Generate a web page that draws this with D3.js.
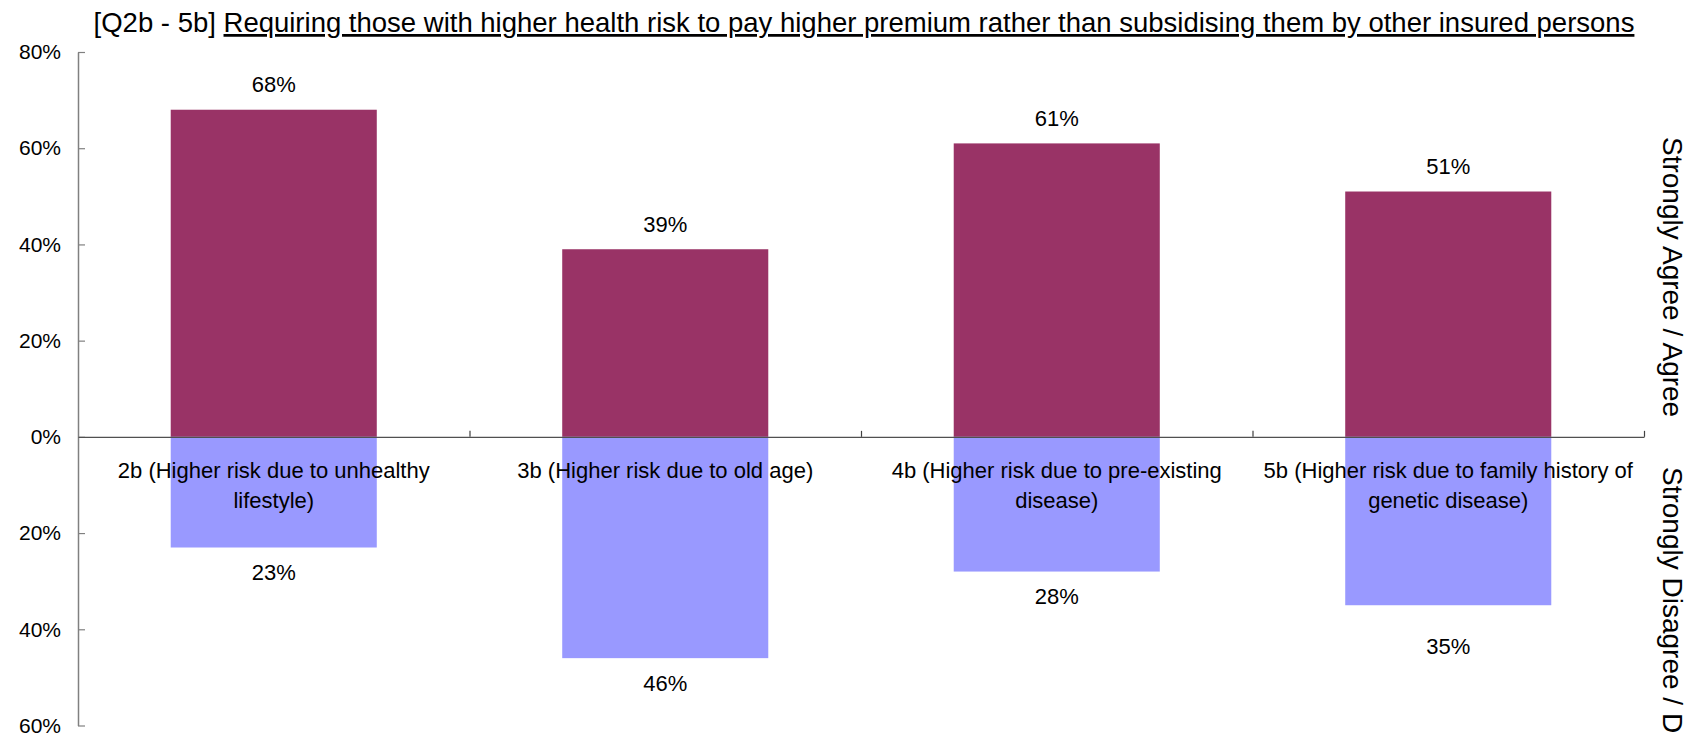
<!DOCTYPE html>
<html>
<head>
<meta charset="utf-8">
<script src="https://cdn.jsdelivr.net/npm/d3@7/dist/d3.min.js"></script>
<style>
  html, body { margin: 0; padding: 0; background: #fff; }
  svg { display: block; font-family: "Liberation Sans", Arial, sans-serif; }
</style>
</head>
<body>
<svg id="chart" width="1686" height="735"></svg>
<script>
// Survey items and their two-sided shares (%)
const categories = ["2b", "3b", "4b", "5b"];
const categoryLines = [
  ["2b (Higher risk due to unhealthy", "lifestyle)"],
  ["3b (Higher risk due to old age)"],
  ["4b (Higher risk due to pre-existing", "disease)"],
  ["5b (Higher risk due to family history of", "genetic disease)"]
];
const agreeValues = [68, 39, 61, 51];
const disagreeValues = [23, 46, 28, 35];
const yTickValues = [80, 60, 40, 20, 0, -20, -40, -60];

const titlePrefix = "[Q2b - 5b] ";
const titleMain = "Requiring those with higher health risk to pay higher premium rather than subsidising them by other insured persons";
const agreeLabel = "Strongly Agree / Agree";
const disagreeLabel = "Strongly Disagree / Disagree";

// Layout
const W = 1686, H = 735;
const plot = { left: 78, right: 1644, top: 52, bottom: 725.5 };
const colors = { agree: "#993366", disagree: "#9999FF" };
const labelGap = 25;
const labelNudge = { "5b": 16 }; // extra drop for the lower label of the last item

const svg = d3.select("#chart");

const x = d3.scaleBand().domain(categories).range([plot.left, plot.right]).paddingInner(0).paddingOuter(0);
const y = d3.scaleLinear().domain([-60, 80]).range([plot.bottom, plot.top]);
const barW = x.bandwidth() / 1.9;
const cx = c => x(c) + x.bandwidth() / 2;
const y0 = y(0);

// Bars
const bars = svg.append("g");
bars.selectAll("rect.agree").data(categories).join("rect")
  .attr("class", "agree")
  .attr("x", c => cx(c) - barW / 2)
  .attr("width", barW)
  .attr("y", (c, i) => y(agreeValues[i]))
  .attr("height", (c, i) => y0 - y(agreeValues[i]))
  .attr("fill", colors.agree);
bars.selectAll("rect.disagree").data(categories).join("rect")
  .attr("class", "disagree")
  .attr("x", c => cx(c) - barW / 2)
  .attr("width", barW)
  .attr("y", y0)
  .attr("height", (c, i) => y(-disagreeValues[i]) - y0)
  .attr("fill", colors.disagree);

// Y axis (ticks point into the plot)
const yAxis = svg.append("g")
  .attr("transform", `translate(${plot.left},0)`)
  .call(d3.axisLeft(y).tickValues(yTickValues).tickSizeInner(-7).tickSizeOuter(0).tickPadding(17)
    .tickFormat(d => Math.abs(d) + "%"));
yAxis.select(".domain").attr("stroke", "#808080").attr("stroke-width", 1.5);
yAxis.selectAll(".tick line").attr("stroke", "#808080").attr("stroke-width", 1.2);
yAxis.selectAll(".tick text").attr("font-size", 21).attr("fill", "#000")
  .attr("font-family", "'Liberation Sans', Arial, sans-serif");

// X axis at zero, with ticks between categories
const xb = d3.scaleLinear().domain([0, categories.length]).range([plot.left, plot.right]);
const xAxis = svg.append("g")
  .attr("transform", `translate(0,${y0})`)
  .call(d3.axisBottom(xb).tickValues(d3.range(1, categories.length + 1)).tickSizeInner(-6).tickSizeOuter(0).tickFormat(""));
xAxis.select(".domain").attr("stroke", "#505050").attr("stroke-width", 1.3);
xAxis.selectAll(".tick line").attr("stroke", "#404040").attr("stroke-width", 1.2);

// Category labels
const catG = svg.append("g").attr("font-size", 22).attr("fill", "#000").attr("text-anchor", "middle");
categories.forEach((c, i) => {
  const t = catG.append("text").attr("x", cx(c)).attr("y", y0 + 41);
  categoryLines[i].forEach((line, j) => {
    t.append("tspan").attr("x", cx(c)).attr("dy", j === 0 ? 0 : 30).text(line);
  });
});

// Value labels
const valG = svg.append("g").attr("font-size", 22).attr("fill", "#000").attr("text-anchor", "middle")
  .attr("dominant-baseline", "central");
valG.selectAll("text.agree").data(categories).join("text")
  .attr("x", cx)
  .attr("y", (c, i) => y(agreeValues[i]) - labelGap)
  .text((c, i) => agreeValues[i] + "%");
valG.selectAll("text.disagree").data(categories).join("text")
  .attr("x", cx)
  .attr("y", (c, i) => y(-disagreeValues[i]) + labelGap + (labelNudge[c] || 0))
  .text((c, i) => disagreeValues[i] + "%");

// Title with underlined statement
const title = svg.append("text")
  .attr("x", (plot.left + plot.right) / 2 + 3).attr("y", 32)
  .attr("text-anchor", "middle").attr("font-size", 27.5).attr("fill", "#000");
title.append("tspan").text(titlePrefix);
title.append("tspan").style("text-decoration", "underline").text(titleMain);

// Side captions for the two halves
svg.append("text")
  .attr("transform", `translate(1672,137) rotate(90)`)
  .attr("dominant-baseline", "central").attr("font-size", 28).attr("fill", "#000")
  .text(agreeLabel);
svg.append("text")
  .attr("transform", `translate(1672,467) rotate(90)`)
  .attr("dominant-baseline", "central").attr("font-size", 28).attr("fill", "#000")
  .text(disagreeLabel);
</script>
</body>
</html>
